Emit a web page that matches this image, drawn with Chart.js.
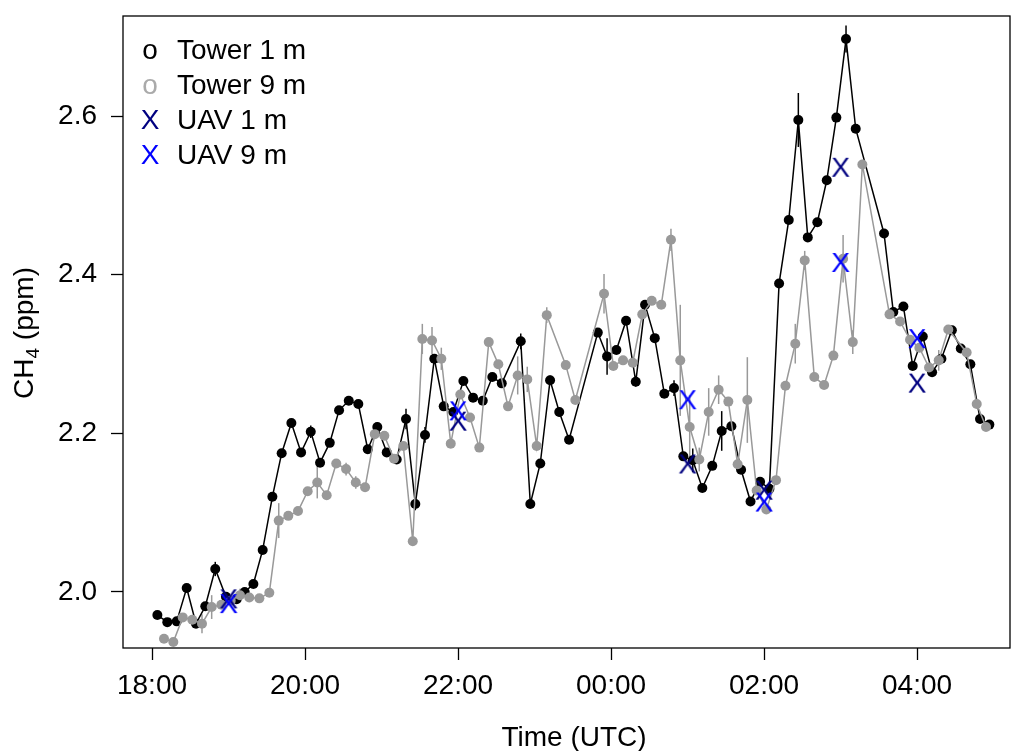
<!DOCTYPE html>
<html><head><meta charset="utf-8">
<script src="https://cdn.jsdelivr.net/npm/chart.js@4.4.1/dist/chart.umd.min.js"></script>
<style>html,body{margin:0;padding:0;background:#fff;} canvas{display:block;}</style>
</head><body>
<canvas id="c" width="1011" height="751"></canvas>
<script>
const FONT = '"Liberation Sans", Arial, Helvetica, sans-serif';

// time in minutes after 18:00 UTC
const tower1Time = [4.2,12.0,19.4,27.2,34.5,41.8,49.6,58.0,66.4,72.7,79.5,86.8,94.4,101.7,109.3,116.9,124.5,131.8,139.4,146.7,154.3,161.8,169.2,176.7,184.1,191.9,199.2,206.5,214.1,221.4,228.8,236.3,244.2,251.8,259.4,266.9,274.3,289.2,296.7,304.5,312.2,319.4,327.1,349.6,356.9,364.2,371.8,379.4,386.7,394.3,401.8,409.4,416.7,424.1,431.6,439.4,446.8,454.4,462.0,469.4,476.9,484.2,491.8,499.4,506.9,514.3,521.8,529.2,536.7,544.3,551.9,574.1,581.4,589.3,596.6,604.5,611.8,619.1,627.3,634.3,641.8,649.4,656.7];
const tower1CH4 = [1.971,1.962,1.963,2.005,1.960,1.982,2.029,1.994,1.991,2.000,2.010,2.053,2.120,2.175,2.213,2.176,2.202,2.163,2.188,2.229,2.241,2.237,2.180,2.208,2.176,2.167,2.218,2.111,2.198,2.294,2.234,2.227,2.266,2.245,2.241,2.271,2.263,2.316,2.111,2.162,2.267,2.227,2.192,2.327,2.297,2.305,2.342,2.265,2.362,2.320,2.250,2.257,2.171,2.166,2.131,2.159,2.203,2.209,2.154,2.114,2.139,2.130,2.389,2.469,2.595,2.447,2.466,2.519,2.598,2.697,2.584,2.452,2.353,2.360,2.285,2.322,2.277,2.294,2.330,2.307,2.287,2.218,2.211];
const tower1Err = [0,0,0,0,0,0,0.009,0,0,0,0,0,0,0,0,0,0.008,0,0,0,0,0,0,0.006,0,0,0.013,0.008,0.01,0.006,0,0,0,0,0,0,0,0.01,0,0,0.006,0.006,0,0,0.023,0,0,0.006,0,0,0,0.01,0,0.015,0,0,0.025,0,0,0,0,0,0,0,0.034,0,0,0,0,0.017,0,0,0,0,0,0,0,0,0,0,0,0,0];

const tower9Time = [9.4,16.7,24.1,31.6,39.2,46.8,54.4,61.7,69.0,76.3,84.2,92.0,99.4,106.9,114.5,122.1,129.6,137.0,144.5,152.2,159.8,167.1,174.7,182.2,189.8,197.1,204.5,212.0,219.6,226.9,234.3,241.8,249.4,256.7,264.1,271.6,279.2,286.8,294.3,301.7,309.6,324.5,332.0,354.5,361.8,369.4,377.0,384.5,391.9,399.4,407.0,414.3,421.7,429.2,436.6,444.4,452.0,459.3,466.9,474.2,481.8,489.4,496.8,504.5,511.9,519.4,527.1,534.4,542.0,549.6,557.1,578.4,586.7,594.5,601.8,609.4,617.0,624.5,638.9,646.8,654.1];
const tower9CH4 = [1.941,1.937,1.968,1.965,1.960,1.981,1.984,1.989,1.996,1.993,1.992,1.999,2.090,2.096,2.102,2.127,2.138,2.122,2.162,2.155,2.138,2.132,2.199,2.197,2.168,2.184,2.064,2.319,2.317,2.294,2.187,2.249,2.220,2.182,2.315,2.287,2.234,2.273,2.268,2.184,2.349,2.286,2.242,2.376,2.285,2.292,2.289,2.350,2.367,2.362,2.444,2.292,2.208,2.167,2.227,2.255,2.240,2.161,2.242,2.128,2.104,2.141,2.260,2.313,2.418,2.271,2.261,2.298,2.420,2.315,2.539,2.350,2.341,2.318,2.308,2.283,2.292,2.331,2.302,2.237,2.208];
const tower9Err = [0,0,0,0,0.012,0.015,0,0,0.008,0,0,0,0.022,0,0,0,0.02,0,0,0.008,0.008,0,0,0,0,0,0,0.019,0.017,0.014,0,0,0,0,0,0,0,0.024,0.016,0,0.01,0,0,0.025,0,0,0,0,0,0,0.014,0.07,0.04,0.015,0.03,0.018,0,0,0.054,0,0,0,0,0.025,0.012,0,0,0,0.03,0.015,0,0,0,0,0,0,0.013,0,0,0,0];

const uavTime = [60,240,420,480,540,600];
const uav1CH4 = [1.992,2.216,2.162,2.129,2.536,2.264];
const uav9CH4 = [1.986,2.229,2.243,2.114,2.416,2.320];

const xTickMinutes = [0,120,240,360,480,600];
const xTickLabels = ['18:00','20:00','22:00','00:00','02:00','04:00'];
const yTicks = [2.0,2.2,2.4,2.6];

const legendLabels = ['Tower 1 m','Tower 9 m','UAV 1 m','UAV 9 m'];
const legendSymbols = ['o','o','X','X'];

const C_T1 = '#000000', C_T9 = '#999999', C_U1 = '#000080', C_U9 = '#0000ff';

function pts(t, v){ return t.map((x,i)=>({x:x, y:v[i]})); }

function xMarker(color){
  const c = document.createElement('canvas');
  c.width = 26; c.height = 26;
  const g = c.getContext('2d');
  g.fillStyle = color;
  g.font = '28px ' + FONT;
  g.textAlign = 'center';
  g.textBaseline = 'alphabetic';
  g.fillText('X', 13, 23);
  return c;
}

const deco = {
  id: 'deco',
  beforeDatasetsDraw(chart){
    const ctx = chart.ctx, xs = chart.scales.x, ys = chart.scales.y, a = chart.chartArea;
    ctx.save();
    ctx.beginPath(); ctx.rect(a.left, a.top, a.right-a.left, a.bottom-a.top); ctx.clip();
    const draw = (t, v, e, col) => {
      ctx.strokeStyle = col; ctx.lineWidth = 1.5;
      for (let i=0;i<t.length;i++){
        if (!e[i]) continue;
        const px = xs.getPixelForValue(t[i]);
        ctx.beginPath();
        ctx.moveTo(px, ys.getPixelForValue(v[i]-e[i]));
        ctx.lineTo(px, ys.getPixelForValue(v[i]+e[i]));
        ctx.stroke();
      }
    };
    draw(tower1Time, tower1CH4, tower1Err, C_T1);
    draw(tower9Time, tower9CH4, tower9Err, C_T9);
    ctx.restore();
  },
  afterDraw(chart){
    const ctx = chart.ctx, a = chart.chartArea;
    ctx.save();
    ctx.strokeStyle = '#000'; ctx.lineWidth = 1.3;
    ctx.strokeRect(a.left, a.top, a.right-a.left, a.bottom-a.top);
    // legend
    const cols = [C_T1, '#aaaaaa', C_U1, C_U9];
    ctx.textBaseline = 'middle';
    for (let i=0;i<legendLabels.length;i++){
      const y = 51 + i*35;
      ctx.font = '28px ' + FONT;
      ctx.fillStyle = cols[i]; ctx.textAlign = 'center';
      ctx.fillText(legendSymbols[i], 150, y);
      ctx.fillStyle = '#000'; ctx.textAlign = 'left';
      ctx.fillText(legendLabels[i], 177, y);
    }
    // x title
    ctx.font = '28px ' + FONT;
    ctx.textAlign = 'center'; ctx.textBaseline = 'alphabetic';
    ctx.fillText('Time (UTC)', 574, 746);
    // y title with subscript
    ctx.translate(33, 333);
    ctx.rotate(-Math.PI/2);
    ctx.font = '28px ' + FONT;
    const w1 = ctx.measureText('CH').width;
    ctx.font = '19px ' + FONT;
    const w2 = ctx.measureText('4').width;
    ctx.font = '28px ' + FONT;
    const w3 = ctx.measureText(' (ppm)').width;
    const tot = w1 + w2 + w3;
    let x0 = -tot/2;
    ctx.textAlign = 'left';
    ctx.fillText('CH', x0, 0);
    ctx.font = '19px ' + FONT;
    ctx.fillText('4', x0 + w1, 6);
    ctx.font = '28px ' + FONT;
    ctx.fillText(' (ppm)', x0 + w1 + w2, 0);
    ctx.restore();
  }
};

new Chart(document.getElementById('c'), {
  type: 'line',
  data: {
    datasets: [
      { label: 'UAV 9 m', data: pts(uavTime, uav9CH4), showLine: false, pointStyle: xMarker(C_U9), order: 0 },
      { label: 'UAV 1 m', data: pts(uavTime, uav1CH4), showLine: false, pointStyle: xMarker(C_U1), order: 0 },
      { label: 'Tower 9 m', data: pts(tower9Time, tower9CH4), borderColor: C_T9, backgroundColor: C_T9,
        borderWidth: 1.5, pointRadius: 5, pointBorderWidth: 0, pointBackgroundColor: C_T9, order: 1 },
      { label: 'Tower 1 m', data: pts(tower1Time, tower1CH4), borderColor: C_T1, backgroundColor: C_T1,
        borderWidth: 1.5, pointRadius: 5, pointBorderWidth: 0, pointBackgroundColor: C_T1, order: 2 }
    ]
  },
  options: {
    responsive: false, animation: false,
    layout: { autoPadding: false, padding: { left: 0, top: 16, right: 1, bottom: 0 } },
    plugins: { legend: { display: false }, tooltip: { enabled: false } },
    elements: { line: { tension: 0 } },
    scales: {
      x: {
        type: 'linear', min: -22.75, max: 672.9,
        afterBuildTicks: s => { s.ticks = xTickMinutes.map(v => ({ value: v })); },
        afterFit: s => { s.height = 103; s.paddingLeft = 0; s.paddingRight = 0; s.paddingTop = 0; s.paddingBottom = 0; },
        grid: { drawOnChartArea: false, drawTicks: true, tickLength: 12, color: '#000', tickWidth: 1.3 },
        border: { display: false },
        ticks: { color: '#000', font: { family: FONT, size: 28 }, padding: 9, maxRotation: 0, autoSkip: false,
          callback: v => { const i = xTickMinutes.indexOf(v); return i >= 0 ? xTickLabels[i] : ''; } }
      },
      y: {
        type: 'linear', min: 1.9294, max: 2.7261,
        afterBuildTicks: s => { s.ticks = yTicks.map(v => ({ value: v })); },
        afterFit: s => { s.width = 123; s.paddingLeft = 0; s.paddingRight = 0; s.paddingTop = 0; s.paddingBottom = 0; },
        grid: { drawOnChartArea: false, drawTicks: true, tickLength: 12, color: '#000', tickWidth: 1.3 },
        border: { display: false },
        ticks: { color: '#000', font: { family: FONT, size: 28 }, padding: 14, autoSkip: false,
          callback: v => v.toFixed(1) }
      }
    }
  },
  plugins: [deco]
});
</script>
</body></html>
